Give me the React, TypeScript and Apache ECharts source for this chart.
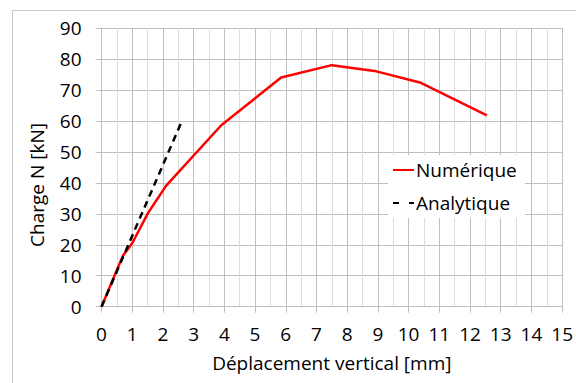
import React, { useEffect, useRef } from "react";
import * as echarts from "echarts";

const numeriqueX = [0, 0.7, 1.0, 1.5, 2.1, 3.9, 5.85, 7.5, 8.95, 10.4, 12.55];
const numeriqueY = [0, 16.5, 20.5, 30, 39, 58.6, 74, 78, 76, 72.3, 61.8];
const analytiqueX = [0, 2.63];
const analytiqueY = [0, 60.2];
const seriesNames = ["Numérique", "Analytique"];
const xTitle = "Déplacement vertical [mm]";
const yTitle = "Charge N [kN]";

const FONT = "'Open Sans', Lato, sans-serif";
const FS = 19;

export default function App() {
  const ref = useRef<HTMLDivElement>(null);
  useEffect(() => {
    if (!ref.current) return;
    const chart = echarts.init(ref.current, undefined, { renderer: "svg" });
    const pair = (xs: number[], ys: number[]) => xs.map((x, i) => [x, ys[i]]);
    chart.setOption({
      animation: false,
      backgroundColor: "#fff",
      textStyle: { fontFamily: FONT },
      grid: { left: 101.5, top: 28, width: 465.5, height: 278.7, containLabel: false },
      xAxis: {
        type: "value",
        min: 0,
        max: 15,
        interval: 1,
        name: xTitle,
        nameLocation: "middle",
        nameGap: 47,
        nameTextStyle: { fontSize: FS, color: "#000", fontFamily: FONT },
        axisLine: { show: true, lineStyle: { color: "#BFBFBF", width: 1 } },
        axisTick: { show: true, inside: false, length: 6, lineStyle: { color: "#BFBFBF" } },
        axisLabel: { fontSize: FS, color: "#000", margin: 18, fontFamily: FONT },
        splitLine: { show: true, lineStyle: { color: "#BFBFBF", width: 1 } },
        minorTick: { show: false, splitNumber: 2 },
        minorSplitLine: { show: true, lineStyle: { color: "#DCDCDC", width: 1 } },
      },
      yAxis: {
        type: "value",
        min: 0,
        max: 90,
        interval: 10,
        axisLine: { show: true, lineStyle: { color: "#BFBFBF", width: 1 } },
        axisTick: { show: true, inside: false, length: 6, lineStyle: { color: "#BFBFBF" } },
        axisLabel: { fontSize: FS, color: "#000", margin: 20, fontFamily: FONT },
        splitLine: { show: true, lineStyle: { color: "#BFBFBF", width: 1 } },
      },
      legend: {
        orient: "vertical",
        left: 388,
        top: 155,
        padding: [5, 8, 5, 5],
        backgroundColor: "#fff",
        itemWidth: 21,
        itemHeight: 14,
        itemGap: 13,
        textStyle: { fontSize: FS, lineHeight: 20, color: "#000", fontFamily: FONT, padding: [0, 0, 0, -3] },
        data: [
          { name: seriesNames[0], icon: "path://M0,6 L21,6 L21,8 L0,8 Z", itemStyle: { color: "#FF0000" } },
          {
            name: seriesNames[1],
            icon: "path://M0,6 L6,6 L6,8 L0,8 Z M16,6 L21,6 L21,8 L16,8 Z",
            itemStyle: { color: "#000" },
          },
        ],
      },
      series: [
        {
          name: seriesNames[0],
          type: "line",
          data: pair(numeriqueX, numeriqueY),
          symbol: "none",
          lineStyle: { color: "#FF0000", width: 2.5 },
          itemStyle: { color: "#FF0000" },
          z: 3,
        },
        {
          name: seriesNames[1],
          type: "line",
          data: pair(analytiqueX, analytiqueY),
          symbol: "none",
          lineStyle: { color: "#000", width: 2.5, type: [7, 5] },
          itemStyle: { color: "#000" },
          z: 4,
        },
      ],
      graphic: [
        {
          type: "rect",
          shape: { x: 12.5, y: 10.5, width: 600, height: 400 },
          style: { fill: "none", stroke: "#C8C8C8", lineWidth: 1 },
          silent: true,
        },
        {
          type: "text",
          x: 37,
          y: 185,
          rotation: Math.PI / 2,
          style: {
            text: yTitle,
            fontSize: FS,
            fontFamily: FONT,
            fill: "#000",
            align: "center",
            verticalAlign: "middle",
          },
        },
      ],
    });
    return () => chart.dispose();
  }, []);
  return (
    <div
      ref={ref}
      style={{ position: "fixed", left: 0, top: 0, width: 576, height: 383, background: "#fff" }}
    />
  );
}
